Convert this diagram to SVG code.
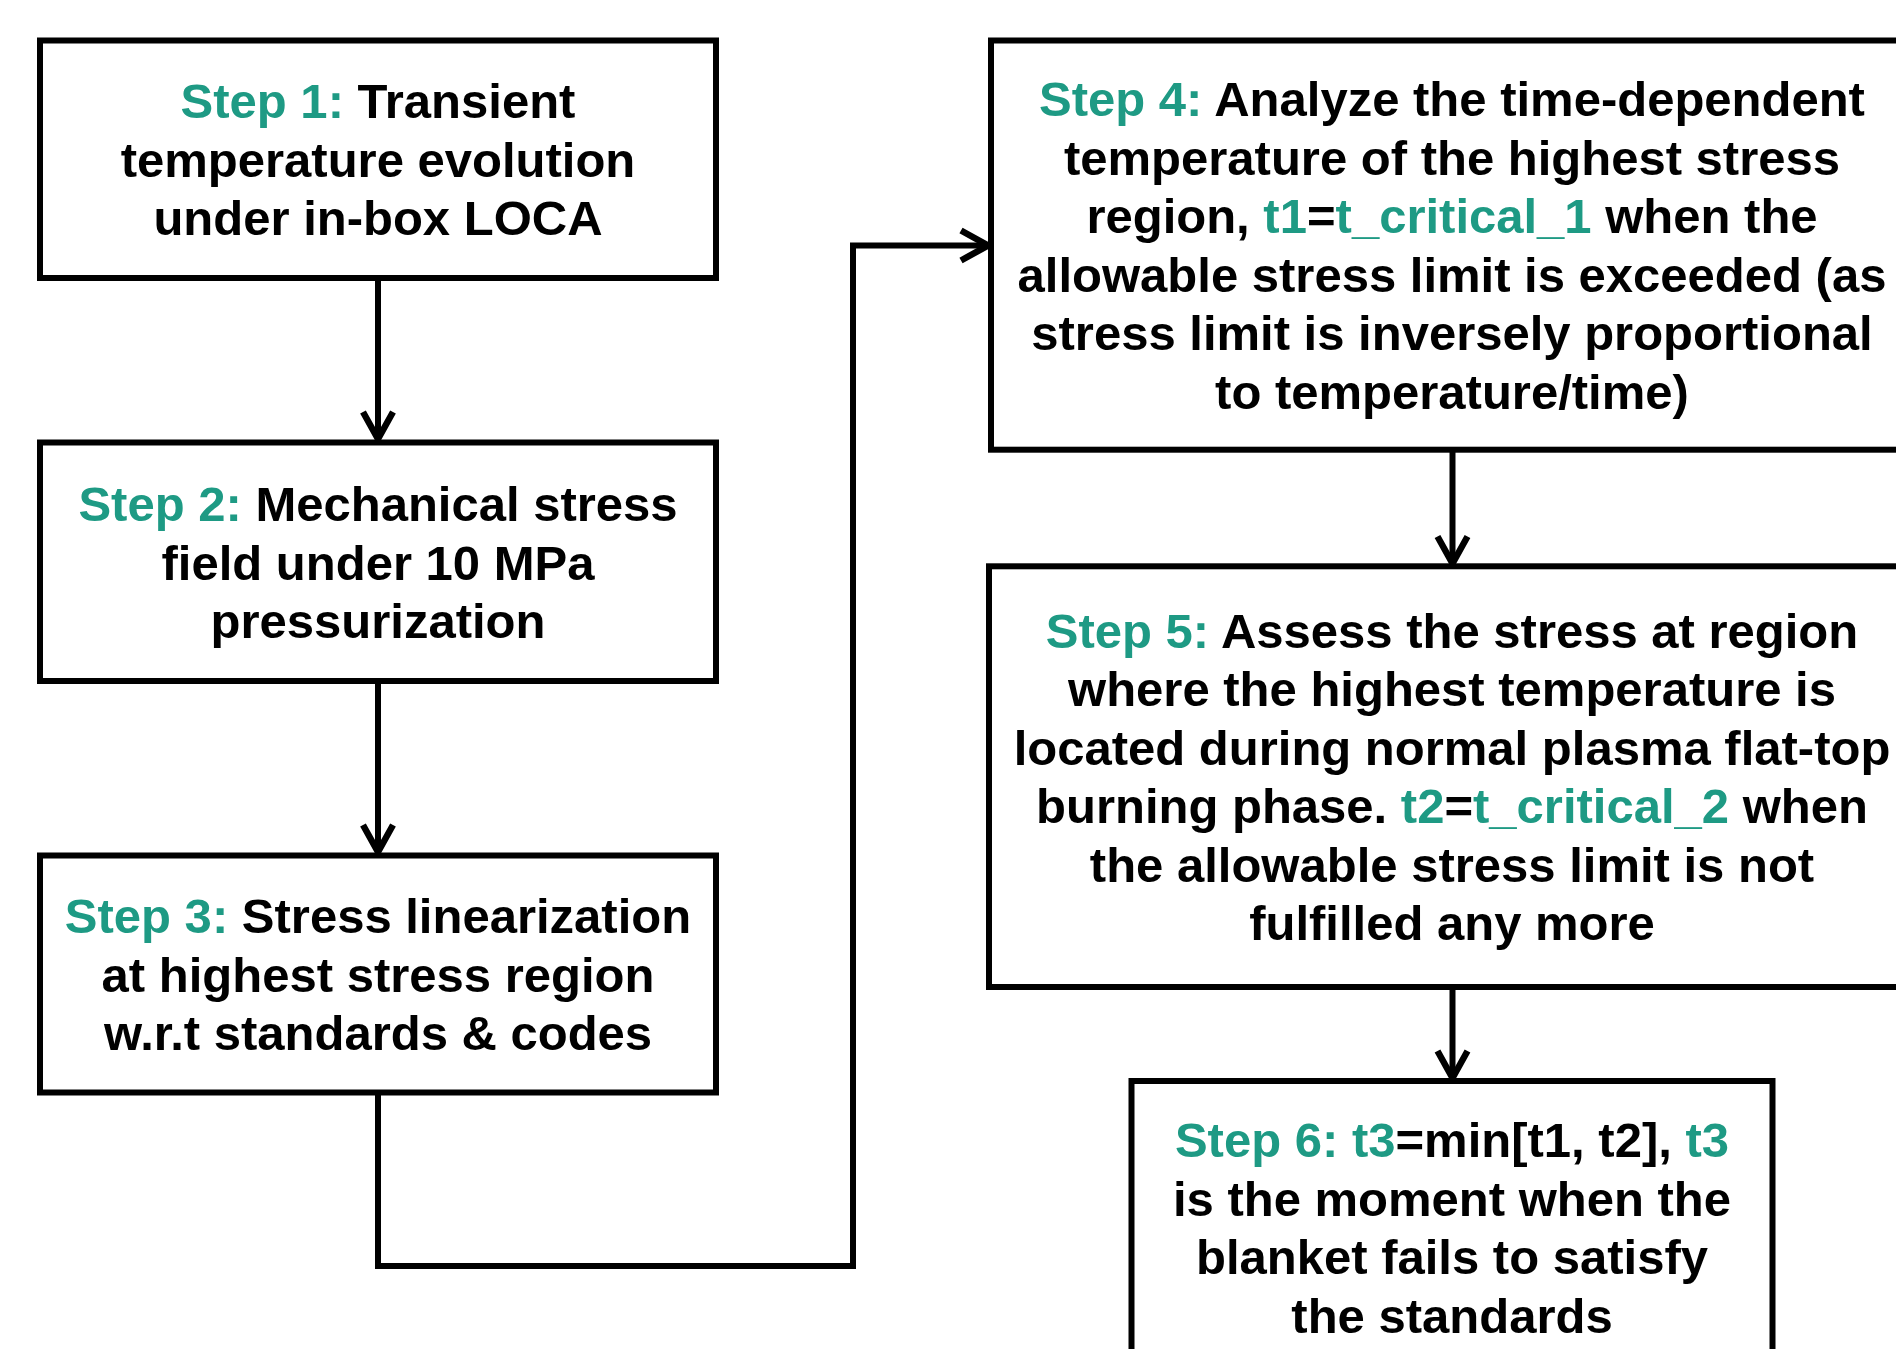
<svg xmlns="http://www.w3.org/2000/svg" width="1896" height="1349" viewBox="0 0 1896 1349">
<style>
  .box { fill: #ffffff; stroke: #000000; stroke-width: 6; }
  .lbl { font-family: "Liberation Sans", Arial, sans-serif; font-weight: bold; font-size: 49px; fill: #000000; text-anchor: middle; }
  .hl { fill: #1e9a84; }
  .conn { fill: none; stroke: #000000; stroke-width: 6; }
</style>
<defs>
  <marker id="arr" markerUnits="userSpaceOnUse" viewBox="-34 -20 38 40" refX="0" refY="0" markerWidth="38" markerHeight="40" orient="auto">
    <path d="M-28,-15 L-1,0 L-28,15" fill="none" stroke="#000000" stroke-width="6.5" stroke-linejoin="miter"/>
  </marker>
</defs>
<rect width="1896" height="1349" fill="#ffffff"/>
<g id="connectors">
  <line class="conn" x1="378" y1="278" x2="378" y2="440" marker-end="url(#arr)"/>
  <line class="conn" x1="378" y1="680" x2="378" y2="853" marker-end="url(#arr)"/>
  <polyline class="conn" points="378,1092.5 378,1266 853,1266 853,245.5 989,245.5" marker-end="url(#arr)"/>
  <line class="conn" x1="1452.5" y1="449.7" x2="1452.5" y2="564.5" marker-end="url(#arr)"/>
  <line class="conn" x1="1452.5" y1="987" x2="1452.5" y2="1079" marker-end="url(#arr)"/>
</g>
<g id="step1">
  <rect class="box" x="40" y="40.5" width="676" height="237.5"/>
  <text class="lbl" x="378" y="118.25"><tspan class="hl">Step 1:</tspan> Transient</text>
  <text class="lbl" x="378" y="176.75">temperature evolution</text>
  <text class="lbl" x="378" y="235.25">under in-box LOCA</text>
</g>
<g id="step2">
  <rect class="box" x="40" y="442.5" width="676" height="238.5"/>
  <text class="lbl" x="378" y="521.35"><tspan class="hl">Step 2:</tspan> Mechanical stress</text>
  <text class="lbl" x="378" y="579.85">field under 10 MPa</text>
  <text class="lbl" x="378" y="638.35">pressurization</text>
</g>
<g id="step3">
  <rect class="box" x="40" y="855.5" width="676" height="237"/>
  <text class="lbl" x="378" y="933"><tspan class="hl">Step 3:</tspan> Stress linearization</text>
  <text class="lbl" x="378" y="991.5">at highest stress region</text>
  <text class="lbl" x="378" y="1050">w.r.t standards &amp; codes</text>
</g>
<g id="step4">
  <rect class="box" x="991" y="40.5" width="930" height="409.2"/>
  <text class="lbl" x="1452" y="116.35"><tspan class="hl">Step 4:</tspan> Analyze the time-dependent</text>
  <text class="lbl" x="1452" y="174.85">temperature of the highest stress</text>
  <text class="lbl" x="1452" y="233.35">region, <tspan class="hl">t1</tspan>=<tspan class="hl">t_critical_1</tspan> when the</text>
  <text class="lbl" x="1452" y="291.85">allowable stress limit is exceeded (as</text>
  <text class="lbl" x="1452" y="350.35">stress limit is inversely proportional</text>
  <text class="lbl" x="1452" y="408.85">to temperature/time)</text>
</g>
<g id="step5">
  <rect class="box" x="989" y="566.3" width="930" height="420.7"/>
  <text class="lbl" x="1452" y="647.9"><tspan class="hl">Step 5:</tspan> Assess the stress at region</text>
  <text class="lbl" x="1452" y="706.4">where the highest temperature is</text>
  <text class="lbl" x="1452" y="764.9">located during normal plasma flat-top</text>
  <text class="lbl" x="1452" y="823.4">burning phase. <tspan class="hl">t2</tspan>=<tspan class="hl">t_critical_2</tspan> when</text>
  <text class="lbl" x="1452" y="881.9">the allowable stress limit is not</text>
  <text class="lbl" x="1452" y="940.4">fulfilled any more</text>
</g>
<g id="step6">
  <rect class="box" x="1131.5" y="1081" width="641" height="300"/>
  <text class="lbl" x="1452" y="1157"><tspan class="hl">Step 6: t3</tspan>=min[t1, t2], <tspan class="hl">t3</tspan></text>
  <text class="lbl" x="1452" y="1215.5">is the moment when the</text>
  <text class="lbl" x="1452" y="1274">blanket fails to satisfy</text>
  <text class="lbl" x="1452" y="1332.5">the standards</text>
</g>
</svg>
